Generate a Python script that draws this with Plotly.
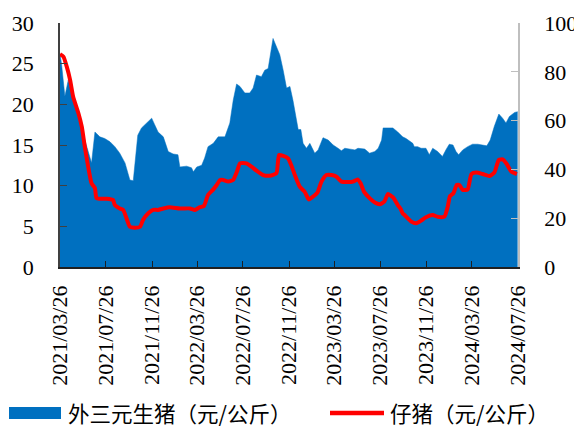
import plotly.graph_objects as go

# 外三元生猪 (元/公斤) - left axis
pig_dates = [
    "2021-03-26", "2021-03-30", "2021-04-08", "2021-04-17", "2021-04-30", "2021-05-18",
    "2021-06-05", "2021-06-18", "2021-06-27", "2021-07-10", "2021-07-23", "2021-08-06",
    "2021-08-19", "2021-09-01", "2021-09-15", "2021-09-23", "2021-09-28", "2021-10-07",
    "2021-10-11", "2021-10-19", "2021-10-29", "2021-11-11", "2021-11-25", "2021-12-03",
    "2021-12-12", "2021-12-26", "2022-01-08", "2022-01-21", "2022-02-03", "2022-02-08",
    "2022-02-26", "2022-03-11", "2022-03-16", "2022-03-25", "2022-04-07", "2022-04-15",
    "2022-04-24", "2022-05-08", "2022-05-21", "2022-06-08", "2022-06-21", "2022-06-30",
    "2022-07-09", "2022-07-18", "2022-07-31", "2022-08-13", "2022-08-22", "2022-08-31",
    "2022-09-13", "2022-09-22", "2022-10-01", "2022-10-14", "2022-10-23", "2022-11-01",
    "2022-11-10", "2022-11-19", "2022-11-28", "2022-12-06", "2022-12-20", "2022-12-27",
    "2023-01-02", "2023-01-11", "2023-01-20", "2023-02-02", "2023-02-11", "2023-02-24",
    "2023-03-10", "2023-03-23", "2023-04-05", "2023-04-14", "2023-04-23", "2023-05-06",
    "2023-05-20", "2023-05-28", "2023-06-15", "2023-06-28", "2023-07-12", "2023-07-21",
    "2023-07-30", "2023-08-03", "2023-08-16", "2023-08-29", "2023-09-11", "2023-09-24",
    "2023-10-03", "2023-10-21", "2023-10-25", "2023-11-03", "2023-11-12", "2023-11-25",
    "2023-12-04", "2023-12-13", "2023-12-26", "2024-01-08", "2024-01-17", "2024-01-26",
    "2024-02-05", "2024-02-13", "2024-02-20", "2024-03-02", "2024-03-15", "2024-03-28",
    "2024-04-11", "2024-04-24", "2024-05-05", "2024-05-14", "2024-05-25", "2024-06-06",
    "2024-06-16", "2024-06-25", "2024-07-04", "2024-07-18", "2024-07-26",
]
pig_price = [
    26.2, 25.0, 21.0, 23.0, 20.5, 17.7,
    14.8, 12.8, 16.6, 16.0, 15.8, 15.4,
    14.8, 14.0, 12.8, 11.5, 10.7, 10.6,
    12.3, 16.2, 17.1, 17.7, 18.3, 17.5,
    16.6, 16.0, 14.2, 13.9, 13.8, 12.3,
    12.4, 12.2, 11.7, 12.3, 12.5, 13.4,
    14.8, 15.2, 16.0, 16.0, 17.7, 20.5,
    22.5, 22.2, 21.4, 21.4, 22.0, 23.6,
    23.4, 24.2, 24.4, 28.1, 27.1, 26.1,
    24.2, 22.0, 22.2, 20.5, 16.9, 16.9,
    15.2, 14.6, 15.2, 14.0, 14.4, 15.9,
    15.6, 15.0, 14.6, 14.3, 14.6, 14.5,
    14.4, 14.6, 14.5, 14.0, 14.2, 14.6,
    15.6, 17.1, 17.1, 17.1, 16.6, 16.0,
    15.8, 15.2, 14.8, 14.8, 14.6, 14.6,
    13.8, 14.6, 14.2, 13.6, 14.4, 15.1,
    15.0, 14.2, 13.8, 14.4, 14.8, 15.1,
    15.1, 15.0, 14.9, 15.6, 17.3, 18.8,
    18.3, 17.7, 18.5, 19.0, 19.1,
]

# 仔猪 (元/公斤) - right axis
piglet_dates = [
    "2021-03-26", "2021-04-04", "2021-04-13", "2021-04-22", "2021-04-30", "2021-05-14",
    "2021-05-23", "2021-05-31", "2021-06-09", "2021-06-18", "2021-06-27", "2021-07-01",
    "2021-07-10", "2021-07-28", "2021-08-14", "2021-08-19", "2021-09-01", "2021-09-10",
    "2021-09-19", "2021-09-28", "2021-10-11", "2021-10-25", "2021-11-02", "2021-11-16",
    "2021-11-29", "2021-12-12", "2021-12-26", "2022-01-12", "2022-02-08", "2022-03-07",
    "2022-03-20", "2022-04-02", "2022-04-13", "2022-04-24", "2022-05-08", "2022-05-17",
    "2022-05-26", "2022-06-03", "2022-06-17", "2022-06-30", "2022-07-10", "2022-07-18",
    "2022-08-04", "2022-08-18", "2022-08-31", "2022-09-18", "2022-10-05", "2022-10-23",
    "2022-10-30", "2022-11-10", "2022-11-23", "2022-12-02", "2022-12-11", "2022-12-24",
    "2023-01-06", "2023-01-17", "2023-01-28", "2023-02-09", "2023-02-20", "2023-03-05",
    "2023-03-19", "2023-04-01", "2023-04-14", "2023-05-02", "2023-05-15", "2023-05-27",
    "2023-06-04", "2023-06-13", "2023-06-28", "2023-07-12", "2023-07-25", "2023-08-06",
    "2023-08-16", "2023-08-29", "2023-09-11", "2023-09-18", "2023-09-24", "2023-09-29",
    "2023-10-17", "2023-10-30", "2023-11-12", "2023-11-25", "2023-12-13", "2023-12-26",
    "2024-01-13", "2024-01-22", "2024-01-28", "2024-02-06", "2024-02-15", "2024-02-22",
    "2024-03-02", "2024-03-15", "2024-03-25", "2024-04-07", "2024-04-24", "2024-05-12",
    "2024-05-25", "2024-06-06", "2024-06-16", "2024-06-27", "2024-07-09", "2024-07-24",
]
piglet_price = [
    87.2, 86.2, 82.1, 76.6, 69.8, 63.0,
    57.5, 49.3, 41.1, 34.3, 32.3, 28.2,
    28.0, 28.0, 27.5, 25.4, 24.0, 23.4,
    20.0, 16.5, 16.1, 16.5, 19.3, 22.0,
    23.4, 23.4, 24.0, 24.5, 24.0, 24.0,
    23.4, 24.5, 25.0, 29.5, 31.8, 33.6,
    35.7, 35.7, 35.0, 35.7, 39.1, 42.5,
    42.5, 41.1, 39.5, 37.7, 37.4, 38.4,
    45.9, 45.5, 44.5, 41.5, 37.7, 32.9,
    30.9, 27.7, 28.8, 30.5, 35.0, 37.7,
    37.7, 37.0, 35.0, 34.8, 35.0, 35.9,
    34.3, 30.9, 28.2, 26.4, 25.7, 26.8,
    29.9, 28.6, 25.4, 24.0, 22.0, 21.3,
    18.6, 17.9, 19.0, 20.4, 21.3, 20.6,
    20.6, 24.7, 29.1, 30.2, 33.6, 33.6,
    31.6, 31.8, 38.1, 38.7, 38.1, 37.3,
    38.7, 43.9, 44.1, 42.2, 39.1, 38.1,
]

tick_dates = [
    "2021-03-26", "2021-07-26", "2021-11-26", "2022-03-26", "2022-07-26", "2022-11-26",
    "2023-03-26", "2023-07-26", "2023-11-26", "2024-03-26", "2024-07-26",
]
tick_labels = [d.replace("-", "/") for d in tick_dates]

series_names = ["外三元生猪（元/公斤）", "仔猪（元/公斤）"]
BLUE = "#0070C0"
RED = "#FF0000"
NUM_FONT = "Liberation Serif"
CJK_FONT = "Noto Sans CJK SC"

# the page puts the figure 8px in from the window's top-left corner
OFF = 8
FIG_W, FIG_H = 582 - OFF, 427 - OFF
# plot area in window px: x 60..518, y 23..267
L, R, T, B = 60 - OFF, 518 - OFF, 23 - OFF, 267 - OFF
W, H = R - L, B - T
def px_x(p):
    return (p - OFF - L) / W
def px_y(p):
    return (B - (p - OFF)) / H

fig = go.Figure()
fig.add_trace(go.Scatter(
    x=pig_dates, y=pig_price, name=series_names[0], mode="lines",
    fill="tozeroy", fillcolor=BLUE, line=dict(color=BLUE, width=0.5),
    yaxis="y", showlegend=False,
))
fig.add_trace(go.Scatter(
    x=piglet_dates, y=piglet_price, name=series_names[1], mode="lines",
    line=dict(color=RED, width=4, shape="spline", smoothing=0.5),
    yaxis="y2", showlegend=False,
))

legend_y = px_y(412)
fig.add_shape(type="rect", xref="paper", yref="paper",
              x0=px_x(9), x1=px_x(61), y0=px_y(419), y1=px_y(407),
              fillcolor=BLUE, line=dict(width=0))
fig.add_annotation(xref="paper", yref="paper", x=px_x(67), y=legend_y,
                   text=series_names[0], showarrow=False, xanchor="left", yanchor="middle",
                   borderpad=0,
                   font=dict(family=CJK_FONT, size=21.5, color="#000000"))
fig.add_shape(type="line", xref="paper", yref="paper",
              x0=px_x(330), x1=px_x(384), y0=px_y(413), y1=px_y(413),
              line=dict(color=RED, width=4.5))
fig.add_annotation(xref="paper", yref="paper", x=px_x(389), y=legend_y,
                   text=series_names[1], showarrow=False, xanchor="left", yanchor="middle",
                   borderpad=0,
                   font=dict(family=CJK_FONT, size=21.5, color="#000000"))

fig.update_layout(
    width=FIG_W, height=FIG_H,
    margin=dict(l=L, r=FIG_W - R, t=T, b=FIG_H - B, pad=0, autoexpand=False),
    paper_bgcolor="white", plot_bgcolor="white",
    showlegend=False,
    xaxis=dict(
        type="date", range=["2021-03-26", "2024-07-27"],
        tickmode="array", tickvals=tick_dates, ticktext=tick_labels,
        tickangle=-90, ticks="inside", ticklen=6, tickwidth=1.2, tickcolor="#202020",
        showline=True, linecolor="#202020", linewidth=1.5, showgrid=False, zeroline=False,
        tickfont=dict(family=NUM_FONT, size=22, color="#000000"),
        ticklabelstandoff=8,
    ),
    yaxis=dict(
        range=[0, 30], tickmode="linear", tick0=0, dtick=5,
        ticks="inside", ticklen=7, tickcolor="#404040",
        showline=True, linecolor="#404040", linewidth=1.5, showgrid=False, zeroline=False,
        tickfont=dict(family=NUM_FONT, size=22, color="#000000"),
        ticklabelstandoff=20,
    ),
    yaxis2=dict(
        range=[0, 100], tickmode="linear", tick0=0, dtick=20,
        overlaying="y", side="right",
        ticks="inside", ticklen=7, tickcolor="#BFBFBF",
        showline=True, linecolor="#BFBFBF", linewidth=1.5, showgrid=False, zeroline=False,
        tickfont=dict(family=NUM_FONT, size=22, color="#000000"),
        ticklabelstandoff=20,
    ),
)

fig.write_html("out.html")
